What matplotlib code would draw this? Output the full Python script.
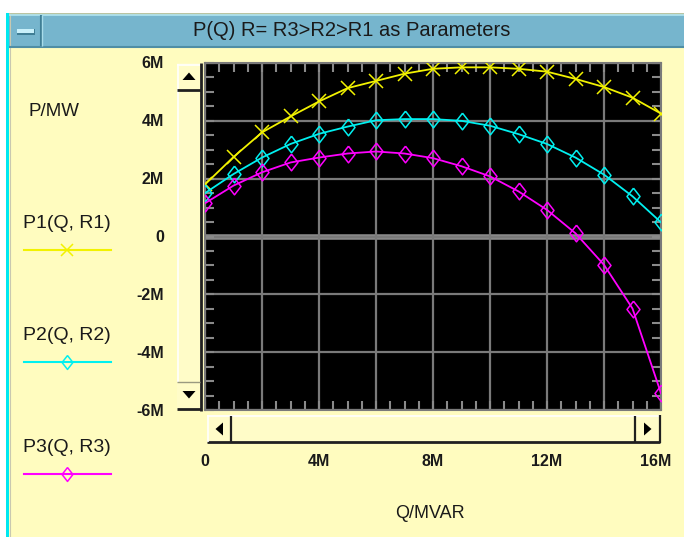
import matplotlib
matplotlib.use("Agg")
import matplotlib.pyplot as plt
from matplotlib.patches import Rectangle, Polygon
from matplotlib.lines import Line2D
from matplotlib.ticker import MultipleLocator

# ---- data (values in millions) ----
q_mvar = [0, 1, 2, 3, 4, 5, 6, 7, 8, 9, 10, 11, 12, 13, 14, 15, 16]
p1 = [1.8, 2.75, 3.6, 4.15, 4.67, 5.13, 5.38, 5.63, 5.8, 5.85, 5.85, 5.8, 5.7, 5.45, 5.17, 4.8, 4.25]
p2 = [1.5, 2.16, 2.73, 3.2, 3.55, 3.8, 4.02, 4.06, 4.06, 4.0, 3.83, 3.54, 3.2, 2.73, 2.14, 1.39, 0.49]
p3 = [1.15, 1.76, 2.22, 2.56, 2.73, 2.87, 2.94, 2.87, 2.71, 2.43, 2.08, 1.56, 0.92, 0.11, -0.98, -2.49, -5.42]
series_names = ["P1(Q, R1)", "P2(Q, R2)", "P3(Q, R3)"]
series_colors = ["#f2f200", "#00f0f0", "#ff00ff"]
series_markers = ["x", "diamond", "diamond"]
x_ticks = [0, 4, 8, 12, 16]
x_tick_labels = ["0", "4M", "8M", "12M", "16M"]
y_ticks = [-6, -4, -2, 0, 2, 4, 6]
y_tick_labels = ["-6M", "-4M", "-2M", "0", "2M", "4M", "6M"]
title = "P(Q) R= R3>R2>R1 as Parameters"

W, H = 684, 537
BG = "#fffcbf"
plt.rcParams['font.family'] = ['Liberation Sans', 'DejaVu Sans']
fig = plt.figure(figsize=(W / 100, H / 100), dpi=100, facecolor=BG)

DIAMOND = [(0, 1), (0.78, 0), (0, -1), (-0.78, 0), (0, 1)]


def mk(m):
    return DIAMOND if m == "diamond" else m


def fx(x):
    return x / W


def fy(y):
    return 1 - y / H


def rect(x0, y0, x1, y1, color, z=1):
    fig.add_artist(Rectangle((fx(x0), fy(y1)), fx(x1) - fx(x0), fy(y0) - fy(y1),
                             transform=fig.transFigure, facecolor=color,
                             edgecolor="none", zorder=z))


def poly(pts, color, z=3):
    fig.add_artist(Polygon([(fx(a), fy(b)) for a, b in pts], closed=True,
                           transform=fig.transFigure, facecolor=color,
                           edgecolor="none", zorder=z))


def hline(x0, x1, y, color, lw=1.0, z=3):
    fig.add_artist(Line2D([fx(x0), fx(x1)], [fy(y), fy(y)], transform=fig.transFigure,
                          color=color, lw=lw, zorder=z, solid_capstyle="butt"))


def vline(x, y0, y1, color, lw=1.0, z=3):
    fig.add_artist(Line2D([fx(x), fx(x)], [fy(y0), fy(y1)], transform=fig.transFigure,
                          color=color, lw=lw, zorder=z, solid_capstyle="butt"))


# ---- window frame ----
rect(0, 0, W, 13, "white", 0)
rect(0, 13, 6, H, "white", 0)
rect(6, 13, 9, H, "#00e8f0", 1)
vline(9.5, 13, H, "#c8c8b0", 0.8)
rect(9, 13, W, 47, "#76b5cd", 1)
hline(9, W, 13.8, "#c8c89a", 1.2)
hline(9, W, 15.3, "#b0e4f0", 1.2)
hline(9, W, 46.5, "#4f8ea5", 1.5)
# minimize button
vline(40.5, 15, 46, "#3f7e95", 1.5)
vline(42, 15, 46, "#a8dcea", 1.0)
rect(17, 29, 35, 35, "#3f7e95", 2)
rect(17, 29, 34, 33, "#c8f0fa", 3)
fig.text(fx(352), fy(31), title, ha="center", va="center", fontsize=14.5, color="#1a1a1a")

# ---- plot area ----
ax = fig.add_axes([fx(205), fy(410), fx(661) - fx(205), fy(63) - fy(410)])
ax.set_facecolor("black")
ax.set_xlim(0, 16)
ax.set_ylim(-6, 6)
ax.xaxis.set_major_locator(MultipleLocator(2))
ax.yaxis.set_major_locator(MultipleLocator(2))
ax.xaxis.set_minor_locator(MultipleLocator(0.5))
ax.yaxis.set_minor_locator(MultipleLocator(0.5))
ax.grid(True, which="major", color="#7a7a7a", lw=1.6)
ax.axhline(0, color="#8a8a8a", lw=4, zorder=1.5)
ax.tick_params(which="both", direction="in", top=True, right=True, bottom=True, left=True,
               color="#8a8a8a", width=1.5, labelleft=False, labelbottom=False)
ax.tick_params(which="major", length=6.5)
ax.tick_params(which="minor", length=6.5)
for s in ax.spines.values():
    s.set_color("#7a7a7a")
    s.set_linewidth(1.5)

for vals, c, m in zip([p1, p2, p3], series_colors, series_markers):
    ms = 10 if m == "x" else 12
    ax.plot(q_mvar, vals, color=c, lw=1.3, marker=mk(m), markersize=ms,
            markerfacecolor="none", markeredgecolor=c, markeredgewidth=1.1,
            clip_on=True, zorder=3)

# tick labels
for v, lab in zip(y_ticks, y_tick_labels):
    ypx = 236.5 - v * 29
    fig.text(fx(164), fy(ypx + 1), lab, ha="right", va="center", fontsize=11.5,
             fontweight="bold", color="#1a1a1a")
for v, lab in zip(x_ticks, x_tick_labels):
    xpx = 205 + v * 28.5
    if v == 16:
        xpx = 656
    fig.text(fx(xpx), fy(461), lab, ha="center", va="center", fontsize=11.5,
             fontweight="bold", color="#1a1a1a")

# axis labels
fig.text(fx(54), fy(112), "P/MW", ha="center", va="center", fontsize=13.5, color="#1a1a1a")
fig.text(fx(430), fy(514), "Q/MVAR", ha="center", va="center", fontsize=13, color="#1a1a1a")

# legend
legend_y = [(223, 250), (335, 362), (447, 474)]
for (ty, ly), name, c, m in zip(legend_y, series_names, series_colors, series_markers):
    fig.text(fx(67), fy(ty), name, ha="center", va="center", fontsize=14, color="#1a1a1a")
    fig.add_artist(Line2D([fx(24), fx(111)], [fy(ly), fy(ly)], transform=fig.transFigure,
                          color=c, lw=1.5, zorder=3))
    fig.add_artist(Line2D([fx(67)], [fy(ly)], transform=fig.transFigure, color=c,
                          marker=mk(m), markersize=9 if m == "x" else 10, markerfacecolor="none",
                          markeredgecolor=c, markeredgewidth=1.1, zorder=3))

# ---- vertical scrollbar ----
DARK = "#202020"
rect(177, 63, 202, 410, "#fffcc8", 1)
vline(200.5, 63, 411, DARK, 2.0)
vline(178, 64, 382, "white", 1.2)
# up button
hline(177, 200, 64.5, "white", 1.2)
hline(177, 201, 90, DARK, 2.0)
poly([(182.5, 80), (195.5, 80), (189, 72.5)], "black")
# down button
hline(177, 200, 382, "#9a9a80", 1.0)
hline(177, 201, 409, DARK, 2.0)
poly([(182.5, 391), (195.5, 391), (189, 398.5)], "black")

# ---- horizontal scrollbar ----
rect(207, 415, 660, 443, "#fffcc8", 1)
hline(207, 660, 442, DARK, 2.0)
hline(207, 660, 416, "white", 1.2)
vline(208, 415, 442, "white", 1.2)
vline(659.5, 415, 443, DARK, 1.6)
vline(231, 416, 442, DARK, 1.6)
vline(635, 416, 442, DARK, 1.6)
poly([(223, 422.5), (223, 435.5), (215.5, 429)], "black")
poly([(644, 422.5), (644, 435.5), (651.5, 429)], "black")

fig.savefig("out.png", dpi=100, facecolor=BG)
